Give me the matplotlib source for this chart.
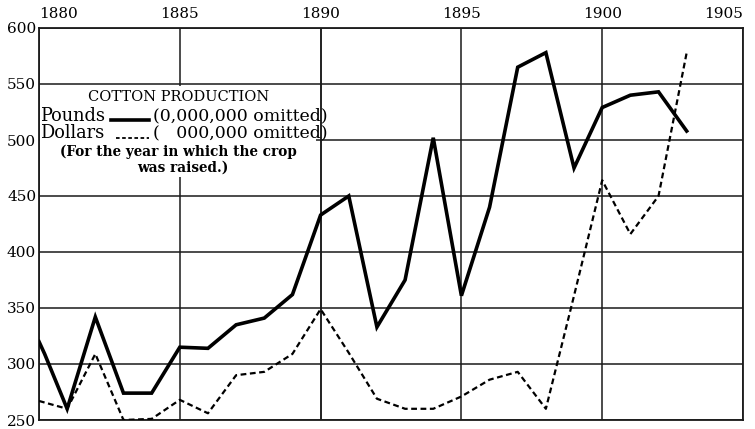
import numpy as np
import matplotlib
matplotlib.use('Agg')
import matplotlib.pyplot as plt

# Cotton production
pound_years = [1880, 1880.2, 1881, 1882, 1883, 1884, 1885, 1886, 1887, 1888, 1889,
               1890, 1891, 1892, 1893, 1894, 1895, 1896, 1897, 1898, 1899, 1900,
               1901, 1902, 1903]
pounds = [320, 309, 260, 342, 274, 274, 315, 314, 335, 341, 362,
          433, 450, 333, 375, 502, 361, 440, 565, 578, 475, 529,
          540, 543, 508]

dollar_years = [1880, 1881, 1882, 1883, 1884, 1885, 1886, 1887, 1888, 1889,
                1890, 1891, 1892, 1893, 1894, 1895, 1896, 1897, 1898, 1899,
                1900, 1901, 1902, 1903]
dollars = [267, 260, 309, 250, 251, 268, 256, 290, 293, 309,
           349, 310, 269, 260, 260, 271, 286, 293, 260, 361,
           464, 416, 450, 578]

year_ticks = [1880, 1885, 1890, 1895, 1900, 1905]
value_ticks = [250, 300, 350, 400, 450, 500, 550, 600]

serif = 'DejaVu Serif'

fig = plt.figure(figsize=(7.55, 4.29), dpi=100)
ax = fig.add_axes([39 / 755, 1 - 420 / 429, (743 - 39) / 755, (420 - 28) / 429])
ax.set_xlim(1880, 1905)
ax.set_ylim(250, 600)

# grid
for yr in year_ticks:
    ax.axvline(yr, color='#1a1a1a', lw=1.1, zorder=1)
for v in value_ticks:
    ax.axhline(v, color='#1a1a1a', lw=1.1, zorder=1)
for s in ax.spines.values():
    s.set_linewidth(1.3)
    s.set_color('#1a1a1a')

ax.plot(pound_years, pounds, color='black', lw=2.6, solid_joinstyle='miter', zorder=4)
ax.plot(dollar_years, dollars, color='black', lw=1.6, dashes=(2.6, 1.6), zorder=4)

# ticks: years on top, values on left
ax.tick_params(length=0)
ax.xaxis.tick_top()
ax.set_xticks(year_ticks)
ax.set_xticklabels([str(y) for y in year_ticks], fontfamily=serif, fontsize=11)
ax.tick_params(axis='x', pad=5)
labels = ax.get_xticklabels()
labels[0].set_ha('left')
labels[-1].set_ha('right')
ax.set_yticks(value_ticks)
ax.set_yticklabels([str(v) for v in value_ticks], fontfamily=serif, fontsize=11)
ax.tick_params(axis='y', pad=2)

# legend block with white background
ax.add_patch(plt.Rectangle((1880.05, 467), 9.8, 81, facecolor='white',
                           edgecolor='none', zorder=2))
ax.axvline(1890, color='#1a1a1a', lw=1.1, zorder=2.5)

ax.text(1884.95, 538.5, 'COTTON PRODUCTION', fontfamily=serif, fontsize=10.5,
        ha='center', va='center', zorder=5)
ax.text(1880.05, 521.5, 'Pounds', fontfamily=serif, fontsize=12.8,
        ha='left', va='center', zorder=5)
ax.plot([1882.55, 1883.9], [518, 518], color='black', lw=2.6, zorder=5)
ax.text(1884.05, 521.5, '(0,000,000 omitted)', fontfamily=serif, fontsize=12.5,
        ha='left', va='center', zorder=5)
ax.text(1880.05, 506, 'Dollars', fontfamily=serif, fontsize=12.8,
        ha='left', va='center', zorder=5)
ax.plot([1882.75, 1883.9], [502, 502], color='black', lw=1.3,
        dashes=(2, 1.4), zorder=5)
ax.text(1884.05, 506, '(   000,000 omitted)', fontfamily=serif, fontsize=12.5,
        ha='left', va='center', zorder=5)
ax.text(1884.95, 489.5, '(For the year in which the crop', fontfamily=serif,
        fontsize=9.8, fontweight='bold', ha='center', va='center', zorder=5)
ax.text(1885.1, 475, 'was raised.)', fontfamily=serif, fontsize=9.8,
        fontweight='bold', ha='center', va='center', zorder=5)

fig.savefig('out.png', dpi=100)
